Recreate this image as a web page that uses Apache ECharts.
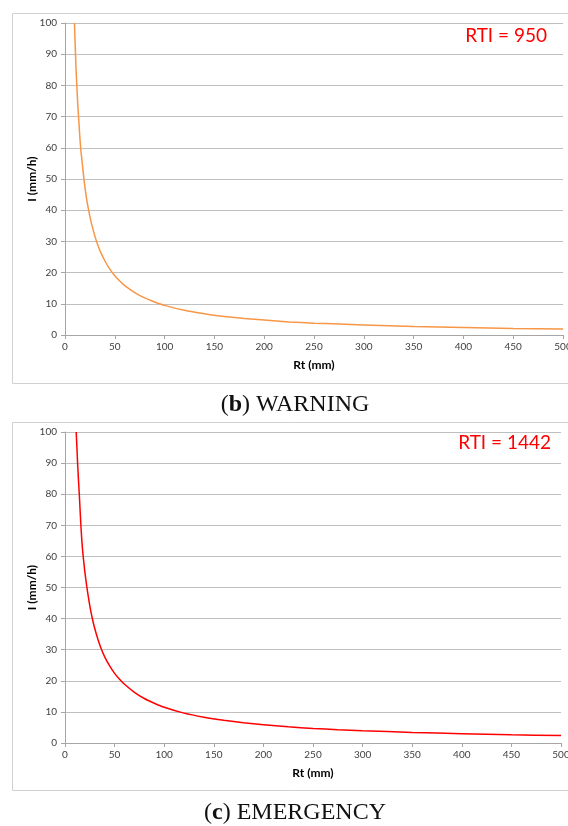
<!DOCTYPE html>
<html>
<head>
<meta charset="utf-8">
<script src="https://cdn.jsdelivr.net/npm/echarts@6/dist/echarts.min.js"></script>
<style>
html,body{margin:0;padding:0;background:#fff;}
#chart{width:568px;height:826px;}
</style>
</head>
<body>
<div id="chart"></div>
<script>
// Data
var xTicks = [0, 50, 100, 150, 200, 250, 300, 350, 400, 450, 500];
var yTicks = [0, 10, 20, 30, 40, 50, 60, 70, 80, 90, 100];

var warningRt = [9.5, 10, 11, 12, 13, 14, 15, 16, 17, 18, 19, 20, 22, 24, 26, 28, 30, 33, 36, 40, 45, 50, 55, 60, 70, 80, 90, 100, 120, 140, 160, 180, 200, 225, 250, 275, 300, 350, 400, 450, 500];
var warningI  = [100, 95, 86, 79, 73, 68, 63, 59, 56, 53, 50, 47.5, 43, 39.6, 36.5, 34, 31.7, 28.8, 26.4, 23.8, 21.1, 19, 17.3, 15.8, 13.6, 11.9, 10.6, 9.5, 7.9, 6.8, 5.9, 5.3, 4.8, 4.2, 3.8, 3.5, 3.2, 2.7, 2.4, 2.1, 1.9];

var emergencyRt = [11.3, 12, 12.7, 13.5, 14.4, 15.2, 16, 17, 18, 19, 20, 22, 24, 26, 28, 30, 33, 36, 40, 45, 50, 55, 60, 70, 80, 90, 100, 120, 140, 160, 180, 200, 225, 250, 275, 300, 350, 400, 450, 500];
var emergencyI  = [100, 95, 90, 85, 80, 75, 70, 65, 61, 58, 55, 50.2, 46, 42.4, 39.4, 36.8, 33.5, 30.7, 27.7, 24.8, 22.4, 20.5, 18.9, 16.3, 14.3, 12.8, 11.5, 9.6, 8.3, 7.3, 6.5, 5.9, 5.2, 4.7, 4.3, 3.95, 3.4, 3.0, 2.65, 2.4];

var warningLabel = 'RTI = 950';
var emergencyLabel = 'RTI = 1442';
var captionB = ['b', ' WARNING'];
var captionC = ['c', ' EMERGENCY'];

function pairs(xs, ys){ return xs.map(function(x,i){ return [x, ys[i]]; }); }

var labelFont = 'Lato, "Open Sans", sans-serif';
function xAxis(idx){
  return {
    gridIndex: idx, type: 'value', min: xTicks[0], max: xTicks[xTicks.length-1], interval: 50,
    name: 'Rt (mm)', nameLocation: 'middle', nameGap: 24, nameMoveOverlap: false,
    nameTextStyle: {fontFamily: labelFont, fontWeight: 'bold', fontSize: 12, color: '#000'},
    axisLine: {show: true, lineStyle: {color: '#a6a6a6', width: 1}},
    axisTick: {show: true, length: 4, lineStyle: {color: '#a6a6a6'}},
    axisLabel: {fontFamily: labelFont, fontSize: 10, color: '#404040', margin: 7},
    splitLine: {show: false}
  };
}
function yAxis(idx){
  return {
    gridIndex: idx, type: 'value', min: yTicks[0], max: yTicks[yTicks.length-1], interval: 10,
    name: 'I (mm/h)', nameLocation: 'middle', nameGap: 27, nameRotate: 90, nameMoveOverlap: false,
    nameTextStyle: {fontFamily: labelFont, fontWeight: 'bold', fontSize: 12, color: '#000'},
    axisLine: {show: true, lineStyle: {color: '#a6a6a6', width: 1}},
    axisTick: {show: true, length: 4, lineStyle: {color: '#a6a6a6'}},
    axisLabel: {fontFamily: labelFont, fontSize: 10, color: '#404040', margin: 8},
    splitLine: {show: true, lineStyle: {color: '#bfbfbf', width: 1}}
  };
}
function caption(letter, rest, y){
  return {
    type: 'text', x: 295, y: y,
    style: {
      text: '{p|(}{b|' + letter + '}{p|)' + rest + '}',
      align: 'center', verticalAlign: 'middle',
      rich: {
        p: {fontFamily: '"Liberation Serif", serif', fontSize: 24, fontWeight: 'normal', fill: '#111'},
        b: {fontFamily: '"Liberation Serif", serif', fontSize: 24, fontWeight: 'bold', fill: '#111'}
      }
    }
  };
}

var chart = echarts.init(document.getElementById('chart'), null, {renderer: 'canvas'});
chart.setOption({
  animation: false,
  backgroundColor: '#fff',
  grid: [
    {left: 65, right: 5, top: 23, bottom: 491, outerBoundsMode: 'none', containLabel: false},
    {left: 65, right: 7, top: 432, bottom: 83, outerBoundsMode: 'none', containLabel: false}
  ],
  xAxis: [xAxis(0), xAxis(1)],
  yAxis: [yAxis(0), yAxis(1)],
  title: [
    {text: warningLabel, right: 16, top: 21, textStyle: {fontFamily: labelFont, fontSize: 19, fontWeight: 'normal', color: '#ff0000'}},
    {text: emergencyLabel, right: 12, top: 428, textStyle: {fontFamily: labelFont, fontSize: 19, fontWeight: 'normal', color: '#ff0000'}}
  ],
  graphic: [
    {type: 'rect', shape: {x: 12.5, y: 13.5, width: 560, height: 370}, style: {fill: 'none', stroke: '#d0d0d0', lineWidth: 1}, z: -1},
    {type: 'rect', shape: {x: 12.5, y: 422.5, width: 560, height: 368}, style: {fill: 'none', stroke: '#d0d0d0', lineWidth: 1}, z: -1},
    caption(captionB[0], captionB[1], 405),
    caption(captionC[0], captionC[1], 813)
  ],
  series: [
    {type: 'line', xAxisIndex: 0, yAxisIndex: 0, data: pairs(warningRt, warningI), smooth: 0.2, showSymbol: false,
      lineStyle: {color: '#f79646', width: 1.5}},
    {type: 'line', xAxisIndex: 1, yAxisIndex: 1, data: pairs(emergencyRt, emergencyI), smooth: 0.2, showSymbol: false,
      lineStyle: {color: '#ff0000', width: 1.5}}
  ]
});
</script>
</body>
</html>
